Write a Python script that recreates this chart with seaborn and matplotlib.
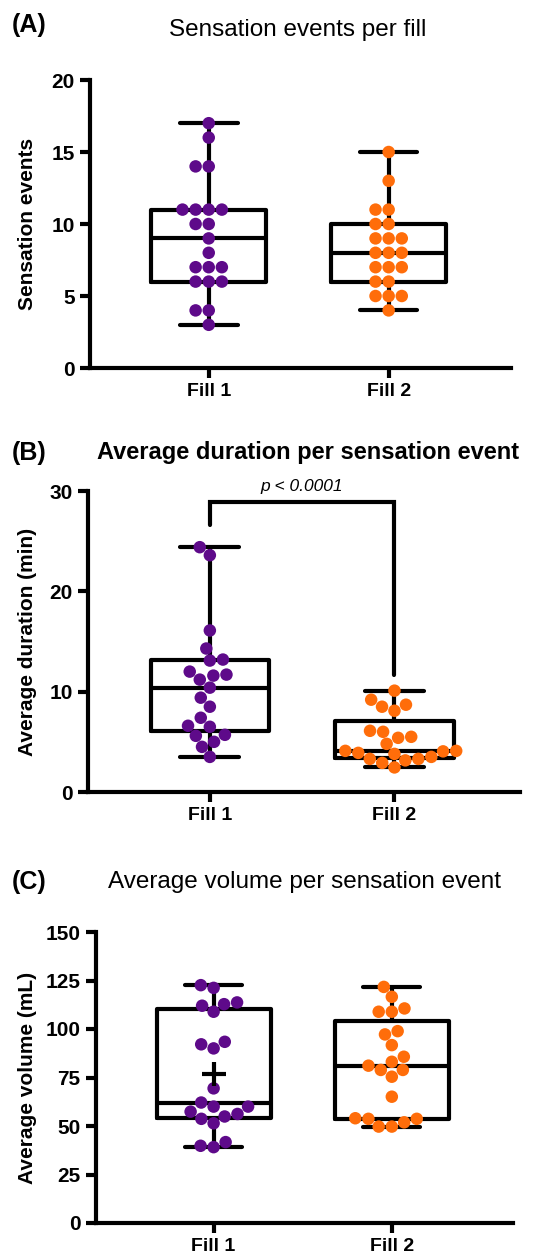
import numpy as np
import pandas as pd
import matplotlib
matplotlib.use("Agg")
import matplotlib.pyplot as plt
import seaborn as sns

sns.set_style("white")
plt.rcParams['font.family'] = ['Liberation Sans', 'DejaVu Sans']
plt.rcParams.update({"text.color": "black", "axes.labelcolor": "black",
                     "xtick.color": "black", "ytick.color": "black"})

groups = ["Fill 1", "Fill 2"]
purple = "#5e0a8a"
orange = "#ff6d0a"

# (A) sensation events per fill
events_fill1 = [17, 16, 14, 14, 11, 11, 11, 11, 10, 10, 9, 8, 7, 7, 7, 6, 6, 6, 4, 4, 3]
events_fill2 = [15, 13, 11, 11, 10, 10, 9, 9, 9, 8, 8, 8, 7, 7, 7, 6, 6, 5, 5, 5, 4]

# (B) average duration per sensation event (min)
duration_fill1 = [24.4, 23.6, 16.1, 14.3, 13.1, 13.2, 12.0, 11.6, 11.7, 11.2, 10.4,
                  9.4, 8.5, 7.4, 6.5, 6.6, 5.6, 5.7, 5.0, 4.5, 3.5]
duration_fill2 = [10.1, 9.2, 8.5, 8.1, 8.7, 6.0, 5.4, 5.5, 6.1, 4.8, 4.1, 3.8, 4.05,
                  3.9, 4.1, 3.3, 3.15, 3.3, 3.5, 2.9, 2.45]

# (C) average volume per sensation event (mL)
volume_fill1 = [121.2, 122.6, 113.7, 112.0, 112.8, 108.9, 93.4, 90.0, 92.1, 69.4, 62.1,
                60.0, 60.0, 57.4, 56.2, 53.7, 54.9, 51.4, 41.7, 39.1, 39.8]
volume_fill2 = [121.7, 116.6, 110.6, 108.9, 108.9, 98.9, 97.2, 91.7, 85.7, 83.1, 81.1,
                78.9, 78.9, 75.4, 65.1, 53.7, 51.9, 53.7, 54.0, 49.7, 49.7]

p_text = "p < 0.0001"


def box_stats(values):
    v = np.asarray(values)
    q1, med, q3 = np.percentile(v, [25, 50, 75], method="weibull")
    return dict(med=med, q1=q1, q3=q3, whislo=v.min(), whishi=v.max(), fliers=[])


def panel(ax, fill1, fill2, ylim, yticks, ylabel, labelx):
    df = pd.DataFrame({
        "fill": [groups[0]] * len(fill1) + [groups[1]] * len(fill2),
        "value": list(fill1) + list(fill2),
    })
    lw = 3
    ax.bxp([box_stats(fill1), box_stats(fill2)], positions=[0, 1], widths=0.64,
           showfliers=False, manage_ticks=False,
           boxprops=dict(color="black", lw=lw),
           whiskerprops=dict(color="black", lw=lw),
           capprops=dict(color="black", lw=lw),
           medianprops=dict(color="black", lw=lw))
    sns.swarmplot(data=df, x="fill", y="value", hue="fill", palette=[purple, orange],
                  size=9, legend=False, ax=ax, zorder=3)
    ax.set_xlim(-0.66, 1.68)
    ax.set_ylim(*ylim)
    ax.set_yticks(yticks)
    ax.set_xlabel("")
    ax.set_ylabel(ylabel, fontsize=15, fontweight="bold")
    ax.yaxis.set_label_coords(labelx, 0.5)
    for s in ["top", "right"]:
        ax.spines[s].set_visible(False)
    for s in ["left", "bottom"]:
        ax.spines[s].set_linewidth(3)
        ax.spines[s].set_color("black")
    ax.tick_params(axis="both", direction="out", length=7, width=3, color="black",
                   left=True, bottom=True, pad=4)
    ax.tick_params(axis="y", labelsize=15)
    ax.tick_params(axis="x", labelsize=14)
    for t in ax.get_xticklabels() + ax.get_yticklabels():
        t.set_fontweight("bold")
    return df


fig = plt.figure(figsize=(5.49, 12.59), dpi=100)
W, H = 549, 1259


def add_axes(left, top, right, bottom):
    return fig.add_axes([left / W, 1 - bottom / H, (right - left) / W, (bottom - top) / H])


# Panel A
axA = add_axes(90, 80, 511, 368)
panel(axA, events_fill1, events_fill2, (0, 20), [0, 5, 10, 15, 20], "Sensation events", -0.126)
fig.text(12 / W, 1 - 25 / H, "(A)", fontsize=18, fontweight="bold", va="center", ha="left")
fig.text(298 / W, 1 - 30 / H, "Sensation events per fill", fontsize=17.5, va="center", ha="center")

# Panel B
axB = add_axes(88, 491, 520, 792)
panel(axB, duration_fill1, duration_fill2, (0, 30), [0, 10, 20, 30], "Average duration (min)", -0.118)
fig.text(12 / W, 1 - 453 / H, "(B)", fontsize=18, fontweight="bold", va="center", ha="left")
fig.text(308 / W, 1 - 453 / H, "Average duration per sensation event", fontsize=17,
         fontweight="bold", va="center", ha="center")
bracket_y = 28.9
axB.plot([0, 0, 1, 1],
         [max(duration_fill1) + 2.2, bracket_y, bracket_y, max(duration_fill2) + 1.6],
         color="black", lw=3, clip_on=False, solid_joinstyle="miter")
axB.text(0.5, 30.4, p_text, fontsize=12.5, style="italic", ha="center", va="center")

# Panel C
axC = add_axes(96, 932, 513, 1223)
panel(axC, volume_fill1, volume_fill2, (0, 150), [0, 25, 50, 75, 100, 125, 150],
      "Average volume (mL)", -0.141)
axC.plot([0], [np.mean(volume_fill1)], marker="+", markersize=17, markeredgewidth=3,
         color="black", zorder=4)
fig.text(12 / W, 1 - 882 / H, "(C)", fontsize=18, fontweight="bold", va="center", ha="left")
fig.text(305 / W, 1 - 882 / H, "Average volume per sensation event", fontsize=17.5,
         va="center", ha="center")

fig.savefig("out.png", dpi=100)
